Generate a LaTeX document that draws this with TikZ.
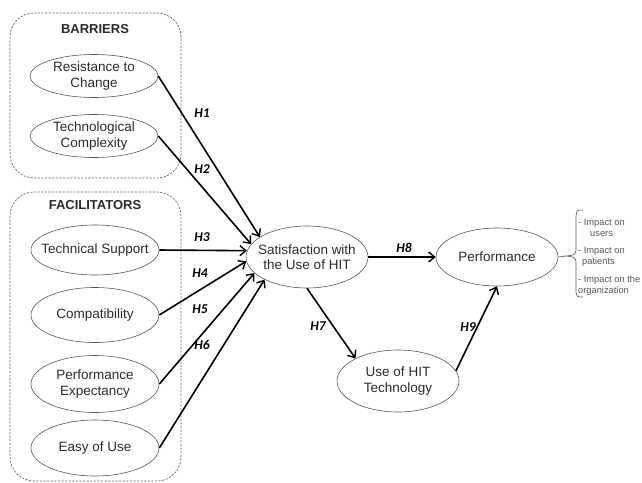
\documentclass[tikz,border=0pt]{standalone}
\usepackage{fontspec}
\setmainfont{Liberation Sans}
\newfontfamily\hfont{Carlito}
\usetikzlibrary{arrows.meta,shapes.geometric}
\definecolor{txt}{HTML}{2A2A2A}
\definecolor{edge}{HTML}{555555}
\definecolor{dash}{HTML}{666666}
\tikzset{
  ell/.style={draw=edge, line width=0.6pt, ellipse, inner xsep=-30pt, inner ysep=-6pt,
    minimum width=128pt, align=center, text=txt, font=\fontsize{13.5}{15.5}\selectfont},
  ellb/.style={ell, minimum width=122pt, minimum height=62pt},
  grp/.style={draw=dash, line width=0.7pt, dash pattern=on 2.2pt off 1.4pt, rounded corners=24pt},
  ttl/.style={font=\bfseries\fontsize{13}{15}\selectfont, text=txt},
  arr/.style={line width=1.6pt, -{Straight Barb[length=6pt,width=10pt,line width=1.4pt]}},
  hl/.style={font=\hfont\bfseries\itshape\fontsize{13.5}{15}\selectfont},
  imp/.style={anchor=west, inner sep=0pt, text=edge, font=\fontsize{9.3}{11}\selectfont},
}
\begin{document}
\begin{tikzpicture}[x=1pt,y=-1pt]
\useasboundingbox (0,0) rectangle (642,482);
% group boxes
\draw[grp] (10,13) rectangle (181,178);
\draw[grp] (10,192) rectangle (181,481);
\node[ttl] (tb) at (95,29) {BARRIERS};
\node[ttl] (tf) at (95,205) {FACILITATORS};
% left constructs
\node[ell, minimum height=43pt] (rc) at (94,76) {Resistance to\\Change};
\node[ell, minimum height=43pt] (tc) at (94,136) {Technological\\Complexity};
\node[ell, minimum height=50pt] (ts) at (95,250) {Technical Support};
\node[ell, minimum height=55pt] (cp) at (95,315) {Compatibility};
\node[ell, minimum height=57pt] (pe) at (95,384) {Performance\\Expectancy};
\node[ell, minimum height=56pt] (eu) at (95,448) {Easy of Use};
% right constructs
\node[ellb] (sat) at (307,257) {Satisfaction with\\the Use of HIT};
\node[ellb] (use) at (398,381) {Use of HIT\\Technology};
\node[ellb, minimum height=58pt] (perf) at (497,257) {Performance};
% arrows
\draw[arr] (rc.east) -- (sat.157);
\draw[arr] (tc.east) -- (sat.167);
\draw[arr] (ts.east) -- (sat.174);
\draw[arr] (cp.east) -- (sat.184);
\draw[arr] (pe.east) -- (sat.197);
\draw[arr] (eu.east) -- (sat.208);
\draw[arr] (sat.east) -- (perf.west);
\draw[arr] (sat.270) -- (use.152);
\draw[arr] (use.10) -- (perf.south);
% labels
\node[hl] (h1) at (202,113) {H1};
\node[hl] (h2) at (202,169) {H2};
\node[hl] (h3) at (202,237) {H3};
\node[hl] (h4) at (200,273) {H4};
\node[hl] (h5) at (200,309) {H5};
\node[hl] (h6) at (202,345) {H6};
\node[hl] (h7) at (318,326) {H7};
\node[hl] (h8) at (404,248) {H8};
\node[hl] (h9) at (468,327) {H9};
% brace
\coordinate (tip) at (566,256);
\draw[edge, line width=0.6pt] (perf.east) -- (tip);
\draw[edge, line width=0.6pt] (583,210) .. controls (577,210) .. (576,216) -- (576,250)
   .. controls (575,255) .. (tip) .. controls (575,257) .. (576,262) -- (576,292)
   .. controls (577,297) .. (583,297);
\node[imp] (i1) at (578,223) {- Impact on};
\node[imp] (i2) at (590,234) {users};
\node[imp] (i3) at (578,251) {- Impact on};
\node[imp] (i4) at (582,262) {patients};
\node[imp] (i5) at (578,280) {- Impact on the};
\node[imp] (i6) at (578,291) {organization};
\end{tikzpicture}
\end{document}
